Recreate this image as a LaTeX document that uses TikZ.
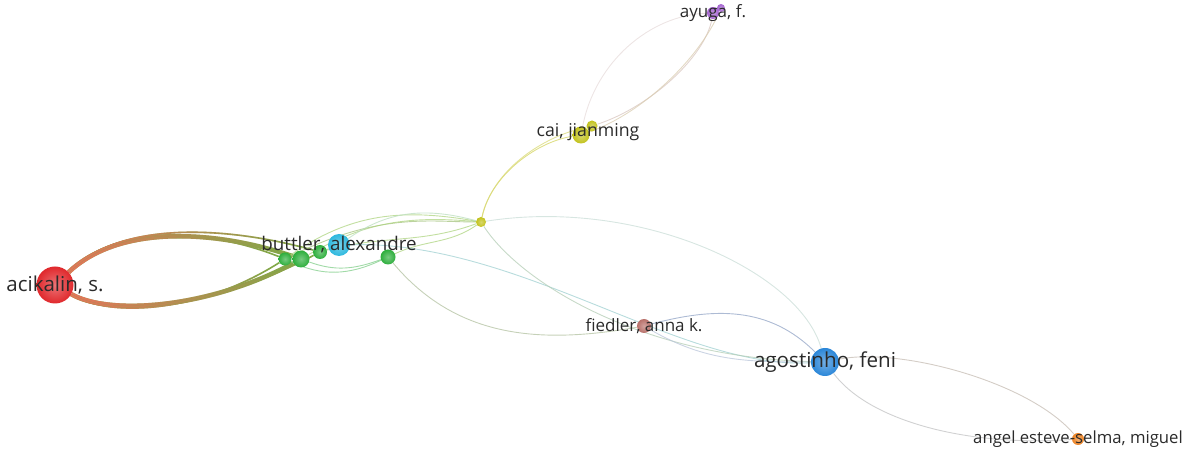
\documentclass[tikz,border=0pt]{standalone}
\usepackage{fontspec}
\setmainfont{Open Sans}
\usetikzlibrary{backgrounds, fadings}
\definecolor{auRed}{HTML}{E0282C}
\definecolor{auGreen}{HTML}{2DAE3C}
\definecolor{auCyan}{HTML}{2DB8DE}
\definecolor{auYellow}{HTML}{C2C21C}
\definecolor{auPurple}{HTML}{A463D0}
\definecolor{auBrown}{HTML}{B8706A}
\definecolor{auBlue}{HTML}{2A86D8}
\definecolor{auOrange}{HTML}{EE8424}
\definecolor{labGrey}{HTML}{2A2A2A}
\definecolor{bandA}{HTML}{E6745A}
\definecolor{bandB}{HTML}{7FAA48}

\begin{document}
\begin{tikzpicture}[x=1pt, y=1pt,
  au/.style 2 args={circle, inner sep=0pt, minimum size=#1, inner color=#2!65!white, outer color=#2},
  nm/.style={text=labGrey, font=\fontsize{#1}{#1}\selectfont, inner sep=0pt},
  lk/.style={line width=0.9pt, draw=#1, opacity=0.75},
  bd/.style={draw=bandB, line width=#1, postaction={draw=bandA, line width=#1, path fading=east}}]
\useasboundingbox (0,0) rectangle (1190,452);
\node[au={37pt}{auRed}] (a1) at (55,167) {};
\node[au={13pt}{auGreen}] (g1) at (285,193) {};
\node[au={17pt}{auGreen}] (g2) at (301,193) {};
\node[au={14pt}{auGreen}] (g3) at (320,200) {};
\node[au={22pt}{auCyan}] (b1) at (339,207) {};
\node[au={15pt}{auGreen}] (g4) at (388,195) {};
\node[au={10pt}{auYellow}] (y1) at (481,230) {};
\node[au={11pt}{auYellow}] (c2) at (592,326) {};
\node[au={17pt}{auYellow}] (c1) at (581,317) {};
\node[au={8pt}{auPurple}] (p2) at (721,444) {};
\node[au={12pt}{auPurple}] (p1) at (713,439) {};
\node[au={14pt}{auBrown}] (f1) at (644,126) {};
\node[au={28pt}{auBlue}] (s1) at (825,90) {};
\node[au={12pt}{auOrange}] (o1) at (1078,13) {};
\begin{scope}[on background layer]
\draw[bd=4.5pt] (a1) .. controls (122,230) and (222,220) .. (g2);
\draw[bd=1.6pt] (a1) .. controls (122,232) and (214,221) .. (g1);
\draw[bd=1.6pt] (a1) .. controls (122,233) and (230,225) .. (g3);
\draw[bd=4.5pt] (a1) .. controls (110,136) and (210,144) .. (g2);
\draw[bd=1.6pt] (a1) .. controls (110,134) and (200,139) .. (g1);
\draw[bd=1.6pt] (a1) .. controls (110,133) and (218,146) .. (g3);
\draw[lk=bandB!70!white] (g1) .. controls (380,240) and (430,230) .. (y1);
\draw[lk=auGreen!60!white] (g2) to[out=-20,in=-160] (g4);
\draw[lk=auGreen!60!white] (g1) to[out=-25,in=-155] (g4);
\draw[lk=auGreen!60!white] (g3) -- (b1);
\draw[lk=auGreen!50!auYellow!60!white] (g1) to[out=35,in=170] (y1);
\draw[lk=auGreen!50!auYellow!60!white] (g2) to[out=30,in=175] (y1);
\draw[lk=auGreen!50!auYellow!60!white] (g3) to[out=15,in=-160] (y1);
\draw[lk=auGreen!50!auYellow!60!white] (g4) to[out=25,in=-145] (y1);
\draw[lk=auCyan!50!auYellow!50!white] (b1) to[out=35,in=165] (y1);
\draw[lk=auGreen!40!auBlue!45!white] (b1) .. controls (520,212) and (680,82) .. (s1);
\draw[lk=auGreen!50!auBrown!55!white] (g4) to[out=-50,in=190] (f1);
\draw[lk=auYellow!50!auBlue!55!white] (y1) .. controls (520,170) and (640,95) .. (s1);
\draw[lk=auYellow!40!auBlue!35!white] (y1) .. controls (640,255) and (800,180) .. (s1);
\draw[lk=auYellow!70!white] (y1) .. controls (490,275) and (535,310) .. (c1);
\draw[lk=auYellow!60!white] (y1) .. controls (492,280) and (540,315) .. (c2);
\draw[lk=auYellow!40!auPurple!30!white] (c1) .. controls (595,390) and (650,437) .. (p1);
\draw[lk=auYellow!45!auPurple!50!white] (c2) .. controls (650,345) and (705,395) .. (p1);
\draw[lk=auYellow!60!auPurple!50!white] (c1) .. controls (645,340) and (700,395) .. (p2);
\draw[lk=auBrown!40!auBlue!70!white] (f1) to[out=15,in=135] (s1);
\draw[lk=auBrown!40!auBlue!45!white] (f1) to[out=-30,in=180] (s1);
\draw[lk=auBlue!45!auOrange!55!white] (s1) .. controls (900,105) and (1030,70) .. (o1);
\draw[lk=auBlue!55!auOrange!50!white] (s1) .. controls (870,30) and (970,5) .. (o1);
\end{scope}
\node[nm=20.5] (l1) at (a1) {acikalin, s.};
\node[nm=18.8] (l2) at (b1) {buttler, alexandre};
\node[nm=17.7] (l3) at (588,320) {cai, jianming};
\node[nm=17] (l4) at (p1) {ayuga, f.};
\node[nm=17] (l5) at (f1) {fiedler, anna k.};
\node[nm=20.6] (l6) at (s1) {agostinho, feni};
\node[nm=16.7] (l7) at (o1) {angel esteve-selma, miguel};
\end{tikzpicture}
\end{document}
